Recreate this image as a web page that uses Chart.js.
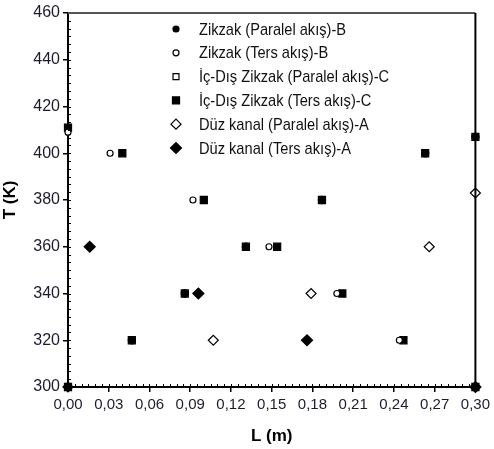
<!DOCTYPE html>
<html>
<head>
<meta charset="utf-8">
<script src="https://cdn.jsdelivr.net/npm/chart.js@4.4.1/dist/chart.umd.min.js"></script>
<style>
  html, body { margin: 0; padding: 0; background: #fff; }
  #wrap { width: 494px; height: 449px; }
</style>
</head>
<body>
<div id="wrap"><canvas id="myChart" width="494" height="449"></canvas></div>
<script>
// Temperature profiles along the channel length
const zikzakParalelB_L = [0, 0.047, 0.086, 0.131, 0.187, 0.263, 0.30]
const zikzakParalelB_T = [300, 320, 340, 360, 380, 400, 407]
const zikzakTersB_L = [0, 0.031, 0.092, 0.148, 0.198, 0.244, 0.30]
const zikzakTersB_T = [409, 400, 380, 360, 340, 320, 300]
const icDisParalelC_L = [0, 0.047, 0.086, 0.131, 0.187, 0.263, 0.30]
const icDisParalelC_T = [300, 320, 340, 360, 380, 400, 407]
const icDisTersC_L = [0, 0.040, 0.100, 0.154, 0.202, 0.247, 0.30]
const icDisTersC_T = [411, 400, 380, 360, 340, 320, 300]
const duzParalelA_L = [0, 0.107, 0.179, 0.266, 0.30]
const duzParalelA_T = [300, 320, 340, 360, 383]
const duzTersA_L = [0.016, 0.096, 0.176, 0.30]
const duzTersA_T = [360, 340, 320, 300]

const seriesNames = [
    'Zikzak (Paralel akış)-B',
    'Zikzak (Ters akış)-B',
    'İç-Dış Zikzak (Paralel akış)-C',
    'İç-Dış Zikzak (Ters akış)-C',
    'Düz kanal (Paralel akış)-A',
    'Düz kanal (Ters akış)-A'
]

const xTicksMajor = [0, 0.03, 0.06, 0.09, 0.12, 0.15, 0.18, 0.21, 0.24, 0.27, 0.30]
const yTicksMajor = [300, 320, 340, 360, 380, 400, 420, 440, 460]

const FONT = "'Liberation Sans', Arial, sans-serif"

function pts(xs, ys) {
    return xs.map((x, i) => ({x: x, y: ys[i]}))
}

const styles = [
    {pointStyle: 'circle', radius: 3.6, bg: '#000', border: '#000'},
    {pointStyle: 'circle', radius: 3, bg: '#fff', border: '#000'},
    {pointStyle: 'rect', radius: 5, bg: '#fff', border: '#000'},
    {pointStyle: 'rect', radius: 5, bg: '#000', border: '#000'},
    {pointStyle: 'rectRot', radius: 5, bg: '#fff', border: '#000'},
    {pointStyle: 'rectRot', radius: 5.5, bg: '#000', border: '#000'}
]
const legendRadius = [3, 3, 4.2, 5, 5, 5.5]

const allData = [
    pts(zikzakParalelB_L, zikzakParalelB_T),
    pts(zikzakTersB_L, zikzakTersB_T),
    pts(icDisParalelC_L, icDisParalelC_T),
    pts(icDisTersC_L, icDisTersC_T),
    pts(duzParalelA_L, duzParalelA_T),
    pts(duzTersA_L, duzTersA_T)
]

// small filled circles go on top of the open squares (lower order = drawn later)
const drawRank = [0, 2, 3, 4, 5, 1]

const datasets = allData.map((d, i) => ({
    label: seriesNames[i],
    data: d,
    showLine: false,
    pointStyle: styles[i].pointStyle,
    pointRadius: styles[i].radius,
    pointBackgroundColor: styles[i].bg,
    pointBorderColor: styles[i].border,
    pointBorderWidth: 1.2,
    clip: false,
    order: drawRank[i]
}))

// minor ticks, frame and in-plot legend
const framePlugin = {
    id: 'frameAndMinor',
    afterDraw: (chart) => {
        const {ctx, chartArea: {top, bottom, left, right}, scales: {x, y}} = chart
        ctx.save()
        ctx.strokeStyle = '#000'
        ctx.lineWidth = 1
        ctx.beginPath()
        for (let v = 0; v <= 0.3 + 1e-9; v += 0.005) {
            const px = Math.round(x.getPixelForValue(v)) + 0.5
            ctx.moveTo(px, bottom)
            ctx.lineTo(px, bottom - 3)
        }
        for (let v = 300; v <= 460 + 1e-9; v += 20 / 6) {
            const py = Math.round(y.getPixelForValue(v)) + 0.5
            ctx.moveTo(left, py)
            ctx.lineTo(left + 3, py)
        }
        ctx.stroke()

        ctx.lineWidth = 2
        ctx.strokeStyle = '#555'
        ctx.beginPath()
        ctx.moveTo(left, top)
        ctx.lineTo(right, top)
        ctx.stroke()
        ctx.strokeStyle = '#000'
        ctx.beginPath()
        ctx.moveTo(right, top)
        ctx.lineTo(right, bottom)
        ctx.stroke()

        // legend
        const lx = 176, tx = 199, ly = 29, gap = 23.8, squeeze = 0.86
        ctx.textBaseline = 'middle'
        ctx.textAlign = 'left'
        seriesNames.forEach((name, i) => {
            const s = styles[i]
            const cy = ly + i * gap
            ctx.fillStyle = s.bg
            ctx.strokeStyle = s.border
            ctx.lineWidth = 1.2
            Chart.helpers.drawPoint(ctx, {pointStyle: s.pointStyle, radius: legendRadius[i], borderWidth: 1.2, rotation: 0}, lx, cy)
            ctx.save()
            ctx.translate(tx, cy + 1)
            ctx.scale(squeeze, 1)
            ctx.font = '17px ' + FONT
            ctx.fillStyle = '#111'
            ctx.fillText(name, 0, 0)
            ctx.restore()
        })
        ctx.restore()
    }
}

const ctx = document.getElementById('myChart').getContext('2d')
const myChart = new Chart(ctx, {
    type: 'scatter',
    data: {datasets: datasets},
    options: {
        responsive: false,
        animation: false,
        layout: {padding: {top: 13, right: 15, left: 0, bottom: 0}},
        scales: {
            x: {
                type: 'linear',
                min: 0,
                max: 0.30,
                afterFit: (scale) => { scale.height = 62 },
                afterBuildTicks: (scale) => { scale.ticks = xTicksMajor.map(v => ({value: v})) },
                border: {color: '#000', width: 2},
                grid: {drawOnChartArea: false, drawTicks: true, tickLength: 5, color: '#000', lineWidth: 1.5},
                ticks: {
                    color: '#1c1c2c',
                    font: {family: FONT, size: 15},
                    padding: 4,
                    maxRotation: 0,
                    autoSkip: false,
                    callback: (v) => Number(v).toFixed(2).replace('.', ',')
                },
                title: {display: true, text: 'L (m)', color: '#000', font: {family: FONT, size: 17, weight: 'bold'}, padding: {top: 0, bottom: 2}}
            },
            y: {
                type: 'linear',
                min: 300,
                max: 460,
                afterFit: (scale) => { scale.width = 68 },
                afterBuildTicks: (scale) => { scale.ticks = yTicksMajor.map(v => ({value: v})) },
                border: {color: '#000', width: 2},
                grid: {drawOnChartArea: false, drawTicks: true, tickLength: 5, color: '#000', lineWidth: 1.5},
                ticks: {
                    color: '#1c1c2c',
                    font: {family: FONT, size: 16},
                    padding: 3
                },
                title: {display: true, text: 'T (K)', color: '#000', font: {family: FONT, size: 17, weight: 'bold'}, padding: {top: 0, bottom: 4}}
            }
        },
        plugins: {
            legend: {display: false},
            tooltip: {enabled: false}
        }
    },
    plugins: [framePlugin]
})
</script>
</body>
</html>
